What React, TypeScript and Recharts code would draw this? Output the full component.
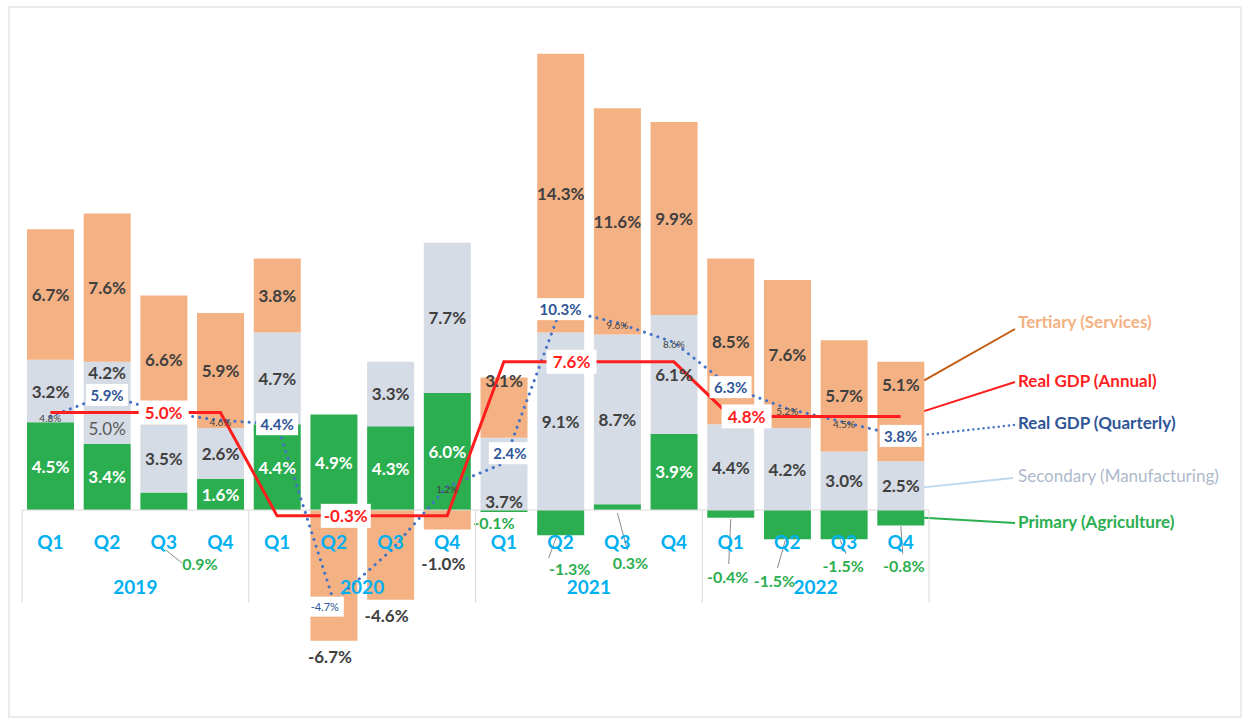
import React from "react";
import {
  ComposedChart,
  Bar,
  Line,
  XAxis,
  YAxis,
  LabelList,
  ReferenceLine,
  Customized,
} from "recharts";

const years = ["2019", "2020", "2021", "2022"];
const quarterNames = ["Q1", "Q2", "Q3", "Q4"];

// contribution to growth, percentage points, 2019Q1..2022Q4
const primary = [4.5, 3.4, 0.9, 1.6, 4.4, 4.9, 4.3, 6.0, -0.1, -1.3, 0.3, 3.9, -0.4, -1.5, -1.5, -0.8];
const secondary = [3.2, 4.2, 3.5, 2.6, 4.7, 0, 3.3, 7.7, 3.7, 9.1, 8.7, 6.1, 4.4, 4.2, 3.0, 2.5];
const tertiary = [6.7, 7.6, 6.6, 5.9, 3.8, -6.7, -4.6, -1.0, 3.1, 14.3, 11.6, 9.9, 8.5, 7.6, 5.7, 5.1];
const gdpQuarterly = [4.8, 5.9, 5.0, 4.6, 4.4, -4.7, -2.1, 1.2, 2.4, 10.3, 9.6, 8.6, 6.3, 5.2, 4.5, 3.8];
const gdpAnnual = [5.0, -0.3, 7.6, 4.8];

// how each quarterly label is shown: boxed, small boxed, tiny, or hidden
const quarterlyLabelKind = [
  "tiny", "box", "none", "tiny", "box", "boxSmall", "none", "tiny",
  "box", "box", "tiny", "tiny", "box", "tiny", "tiny", "box",
];

const GREEN = "#2BAE4F";
const GREY = "#D6DCE5";
const ORANGE = "#F4B183";
const RED = "#FF1E1E";
const BLUE = "#4472C4";
const DARK_BLUE = "#2F5597";
const CYAN = "#00B0F0";
const TEXT = "#404040";
const FONT = "Lato, 'Open Sans', sans-serif";

const W = 1247;
const H = 719;
const X_AXIS_H = 20;
const M = { top: 42, right: 318, bottom: 53 - X_AXIS_H, left: 22 };
const Y_MIN = -8;
const Y_MAX = 24;
const PLOT_W = W - M.left - M.right;
const PLOT_H = H - M.top - M.bottom - X_AXIS_H;
const PX = PLOT_H / (Y_MAX - Y_MIN);
const ZERO_Y = M.top + Y_MAX * PX;
const BAND = PLOT_W / primary.length;
const yOf = (v: number) => ZERO_Y - v * PX;
const xOf = (i: number) => M.left + (i + 0.5) * BAND;
const idxAt = (cx: number) => Math.round((cx - M.left) / BAND - 0.5);

const data = primary.map((p, i) => ({
  key: `${years[Math.floor(i / 4)]} ${quarterNames[i % 4]}`,
  primary: p,
  secondary: secondary[i],
  tertiary: tertiary[i],
  quarterly: gdpQuarterly[i],
  annual: gdpAnnual[Math.floor(i / 4)],
  base: 0,
}));

const fmt = (v: number) => `${v.toFixed(1)}%`;

const rectOf = (p: any) => {
  const vb = p.viewBox && p.viewBox.x != null ? p.viewBox : p;
  const x = Number(vb.x);
  const y = Number(vb.y);
  const w = Number(vb.width) || 0;
  const h = Number(vb.height) || 0;
  const cx = x + w / 2;
  return { cx, top: Math.min(y, y + h), bottom: Math.max(y, y + h), y, i: idxAt(cx) };
};

const BarText = ({ x, y, children, fill = TEXT, weight = 700, size = 17 }: any) => (
  <text
    x={x}
    y={y}
    textAnchor="middle"
    dominantBaseline="central"
    fill={fill}
    fontWeight={weight}
    fontSize={size}
    fontFamily={FONT}
  >
    {children}
  </text>
);

// small agriculture values sit outside the bar, with a thin leader
// [labelDx, labelDy, startDx, startDy, endDx, endDy] from (bar centre, zero line)
const primaryOutside: Record<number, number[]> = {
  2: [36, 53, 2, 40, 18, 53],
  8: [-10, 12, 0, 2, 0, 2],
  9: [9, 58, -4, 26, -12, 48],
  10: [13, 52, 0, 3, 10, 40],
  12: [-3, 66, 0, 9, -2, 54],
  13: [-13, 70, -2, 30, -10, 58],
  14: [-1, 55, -4, 30, 2, 44],
  15: [3, 55, 0, 16, 2, 44],
};

const PrimaryLabel = (props: any) => {
  const r = rectOf(props);
  const v = primary[r.i];
  const o = primaryOutside[r.i];
  if (o) {
    return (
      <g>
        <line
          x1={r.cx + o[2]}
          y1={ZERO_Y + o[3]}
          x2={r.cx + o[4]}
          y2={ZERO_Y + o[5]}
          stroke="#8C8C8C"
          strokeWidth={1}
        />
        <BarText x={r.cx + o[0]} y={ZERO_Y + o[1]} fill={GREEN} size={16}>
          {fmt(v)}
        </BarText>
      </g>
    );
  }
  return (
    <BarText x={r.cx} y={(r.top + r.bottom) / 2} fill="#ffffff">
      {fmt(v)}
    </BarText>
  );
};

const SecondaryLabel = (props: any) => {
  const r = rectOf(props);
  const i = r.i;
  const v = secondary[i];
  if (!v) return <g />;
  const mid = (r.top + r.bottom) / 2;
  if (i === 1) {
    return (
      <g>
        <BarText x={r.cx} y={mid - 30}>{fmt(v)}</BarText>
        <BarText x={r.cx} y={mid + 26} fill="#595959" weight={400}>
          {fmt(5.0)}
        </BarText>
      </g>
    );
  }
  return (
    <BarText x={r.cx} y={mid + (i === 8 ? 28 : 0)}>
      {fmt(v)}
    </BarText>
  );
};

const TertiaryLabel = (props: any) => {
  const r = rectOf(props);
  const i = r.i;
  const v = tertiary[i];
  if (v < 0) {
    const y = r.bottom - ZERO_Y < 40 ? ZERO_Y + 53 : r.bottom + 16;
    return <BarText x={r.cx - 4} y={y}>{fmt(v)}</BarText>;
  }
  const shift = i === 8 || i === 15 ? -27 : 0;
  return (
    <BarText x={r.cx} y={(r.top + r.bottom) / 2 + shift}>
      {fmt(v)}
    </BarText>
  );
};

const annualLabelAt: Record<number, number> = { 2: 0, 5: 12, 9: 11, 12: 16 };

const AnnualLabel = (props: any) => {
  const r = rectOf(props);
  const i = r.i;
  if (annualLabelAt[i] == null) return <g />;
  const x = r.cx + annualLabelAt[i];
  const y = r.y;
  const v = gdpAnnual[Math.floor(i / 4)];
  return (
    <g>
      <rect x={x - 25} y={y - 12} width={50} height={24} fill="#ffffff" />
      <BarText x={x} y={y} fill={RED} size={17}>{fmt(v)}</BarText>
    </g>
  );
};

const QuarterlyLabel = (props: any) => {
  const r = rectOf(props);
  const i = r.i;
  const kind = quarterlyLabelKind[i];
  if (kind === "none") return <g />;
  let x = r.cx;
  let y = r.y;
  const v = gdpQuarterly[i];
  if (i === 8) {
    x += 6;
    y -= 10;
  }
  if (i === 5) {
    x -= 9;
    y += 5;
  }
  if (kind === "tiny") {
    return (
      <BarText x={x} y={y + 2} fill="#404040" weight={400} size={10}>
        {fmt(v)}
      </BarText>
    );
  }
  if (kind === "boxSmall") {
    return (
      <g>
        <rect x={x - 19} y={y - 10} width={38} height={20} fill="#ffffff" />
        <BarText x={x} y={y} fill={DARK_BLUE} weight={400} size={11}>
          {fmt(v)}
        </BarText>
      </g>
    );
  }
  const w = v >= 10 ? 50 : 42;
  return (
    <g>
      <rect x={x - w / 2} y={y - 11} width={w} height={22} fill="#ffffff" />
      <BarText x={x} y={y} fill={DARK_BLUE} size={15}>{fmt(v)}</BarText>
    </g>
  );
};

// category labels: quarter names, years and year separators, hung from the zero line
const CategoryLabel = (props: any) => {
  const r = rectOf(props);
  const i = r.i;
  const x = r.cx;
  const zy = r.y;
  const sepStyle = { stroke: "#D9D9D9", strokeWidth: 1 };
  return (
    <g>
      {i % 4 === 0 && (
        <line x1={x - BAND / 2} y1={zy} x2={x - BAND / 2} y2={zy + 93} {...sepStyle} />
      )}
      {i === primary.length - 1 && (
        <line x1={x + BAND / 2} y1={zy} x2={x + BAND / 2} y2={zy + 93} {...sepStyle} />
      )}
      <text
        x={x}
        y={zy + 31}
        textAnchor="middle"
        dominantBaseline="central"
        fill={CYAN}
        fontWeight={700}
        fontSize={19}
        fontFamily={FONT}
      >
        {quarterNames[i % 4]}
      </text>
      {i % 4 === 1 && (
        <text
          x={x + BAND / 2}
          y={zy + 76}
          textAnchor="middle"
          dominantBaseline="central"
          fill={CYAN}
          fontWeight={700}
          fontSize={19}
          fontFamily={FONT}
        >
          {years[Math.floor(i / 4)]}
        </text>
      )}
    </g>
  );
};

const Annotations = () => {
  const last = primary.length - 1;
  const cx = xOf(last);
  const tY = yOf(secondary[last] + tertiary[last] / 2) - 27;
  const aY = yOf(gdpAnnual[gdpAnnual.length - 1]);
  const qY = yOf(gdpQuarterly[last]);
  const sY = yOf(secondary[last] / 2) + 2;
  const pY = yOf(primary[last] / 2);
  const tx = 1018;
  const label = (y: number, text: string, fill: string, weight = 700) => (
    <text
      x={tx}
      y={y}
      dominantBaseline="central"
      fill={fill}
      fontWeight={weight}
      fontSize={17}
      fontFamily={FONT}
    >
      {text}
    </text>
  );
  return (
    <g>
      <line x1={tx - 3} y1={329} x2={cx + 16} y2={tY} stroke="#C55A11" strokeWidth={2} />
      <circle cx={cx + 16} cy={tY} r={2.5} fill="#C55A11" />
      {label(321, "Tertiary (Services)", ORANGE)}

      <line x1={tx - 3} y1={382} x2={cx + 7} y2={aY} stroke={RED} strokeWidth={2} />
      <circle cx={cx + 7} cy={aY} r={4.5} fill={RED} />
      {label(380, "Real GDP (Annual)", RED)}

      <line
        x1={tx - 4}
        y1={425}
        x2={cx + 14}
        y2={qY}
        stroke={BLUE}
        strokeWidth={2.5}
        strokeDasharray="0.1 5"
        strokeLinecap="round"
      />
      {label(422, "Real GDP (Quarterly)", DARK_BLUE)}

      <line x1={tx - 5} y1={478} x2={cx + 20} y2={sY} stroke="#BDD7EE" strokeWidth={2} />
      {label(475, "Secondary (Manufacturing)", "#ADB9CA", 400)}

      <line x1={tx - 3} y1={523} x2={cx + 23} y2={pY} stroke={GREEN} strokeWidth={2} />
      {label(521, "Primary (Agriculture)", GREEN)}
    </g>
  );
};

export default function App() {
  return (
    <div style={{ position: "absolute", left: 0, top: 0, width: W, height: H, background: "#fff" }}>
      <div
        style={{
          position: "absolute",
          left: 8,
          top: 6,
          width: 1234,
          height: 712,
          border: "2px solid #EBEBEB",
          boxSizing: "border-box",
        }}
      />
      <div style={{ position: "absolute", left: 0, top: 0 }}>
        <ComposedChart
          width={W}
          height={H}
          data={data}
          margin={M}
          stackOffset="sign"
          barSize={47}
        >
          <YAxis hide type="number" domain={[Y_MIN, Y_MAX]} allowDataOverflow />
          <XAxis
            dataKey="key"
            height={X_AXIS_H}
            interval={0}
            axisLine={false}
            tickLine={false}
            tick={false}
          />
          <ReferenceLine y={0} stroke="#D9D9D9" strokeWidth={1} />
          <Bar dataKey="primary" stackId="s" fill={GREEN} isAnimationActive={false}>
            <LabelList dataKey="primary" content={PrimaryLabel} />
          </Bar>
          <Bar dataKey="secondary" stackId="s" fill={GREY} isAnimationActive={false}>
            <LabelList dataKey="secondary" content={SecondaryLabel} />
          </Bar>
          <Bar dataKey="tertiary" stackId="s" fill={ORANGE} isAnimationActive={false}>
            <LabelList dataKey="tertiary" content={TertiaryLabel} />
          </Bar>
          <Line
            dataKey="base"
            stroke="none"
            dot={false}
            activeDot={false}
            isAnimationActive={false}
          >
            <LabelList dataKey="base" content={CategoryLabel} />
          </Line>
          <Line
            type="linear"
            dataKey="quarterly"
            stroke={BLUE}
            strokeWidth={3}
            strokeDasharray="0.1 7"
            strokeLinecap="round"
            dot={false}
            isAnimationActive={false}
          >
            <LabelList dataKey="quarterly" content={QuarterlyLabel} />
          </Line>
          <Line
            type="linear"
            dataKey="annual"
            stroke={RED}
            strokeWidth={3}
            dot={false}
            isAnimationActive={false}
          >
            <LabelList dataKey="annual" content={AnnualLabel} />
          </Line>
          <Customized component={Annotations} />
        </ComposedChart>
      </div>
    </div>
  );
}
